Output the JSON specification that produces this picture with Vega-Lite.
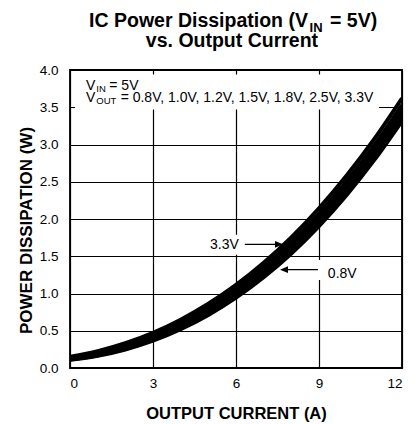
{
  "$schema": "https://vega.github.io/schema/vega-lite/v6.json",
  "width": 332,
  "height": 298,
  "autosize": "none",
  "padding": {"left": 70, "top": 70, "right": 17, "bottom": 56},
  "config": {
    "font": "Liberation Sans",
    "view": {"stroke": "black", "strokeWidth": 1.8},
    "axis": {"labelColor": "black", "titleColor": "black", "labelFont": "Liberation Sans", "titleFont": "Liberation Sans"}
  },
  "encoding": {
    "x": {"field": "current", "type": "quantitative", "scale": {"domain": [0, 12]},
      "axis": {"values": [0, 3, 6, 9, 12], "title": "OUTPUT CURRENT (A)", "titleFontSize": 16.5, "titleFontWeight": "bold", "titleY": 50, "titleBaseline": "alphabetic", "labelFontSize": 13.5, "labelPadding": 8, "ticks": false, "domain": false, "grid": true, "gridColor": "black", "gridWidth": 1.2, "gridOpacity": 1}},
    "y": {"field": "power", "type": "quantitative", "scale": {"domain": [0, 4]},
      "axis": {"values": [0, 0.5, 1, 1.5, 2, 2.5, 3, 3.5, 4], "format": ".1f", "title": "POWER DISSIPATION (W)", "titleFontSize": 17, "titleFontWeight": "bold", "titleX": -44, "titleY": 160, "titleBaseline": "middle", "titleAngle": -90, "labelFontSize": 13.5, "labelPadding": 12, "ticks": false, "domain": false, "grid": true, "gridColor": "black", "gridWidth": 1.2, "gridOpacity": 1}}
  },
  "layer": [
    {
      "data": {"values": [
        {"current": 0.18, "current2": 11.17, "power": 3.47, "power2": 3.94},
        {"current": 5.0, "current2": 7.6, "power": 1.52, "power2": 1.79},
        {"current": 7.5, "current2": 10.6, "power": 1.18, "power2": 1.45}
      ]},
      "mark": {"type": "rect", "fill": "white", "stroke": null},
      "encoding": {
        "x2": {"field": "current2"},
        "y2": {"field": "power2"}
      }
    },
    {
      "data": {"values": [
        {"current": 0, "power": 0.110, "vout": "0.8V"}, {"current": 1, "power": 0.164, "vout": "0.8V"}, {"current": 2, "power": 0.249, "vout": "0.8V"}, {"current": 3, "power": 0.367, "vout": "0.8V"}, {"current": 4, "power": 0.521, "vout": "0.8V"}, {"current": 5, "power": 0.712, "vout": "0.8V"}, {"current": 6, "power": 0.944, "vout": "0.8V"}, {"current": 7, "power": 1.219, "vout": "0.8V"}, {"current": 8, "power": 1.538, "vout": "0.8V"}, {"current": 9, "power": 1.906, "vout": "0.8V"}, {"current": 10, "power": 2.323, "vout": "0.8V"}, {"current": 11, "power": 2.793, "vout": "0.8V"}, {"current": 12, "power": 3.317, "vout": "0.8V"},
        {"current": 0, "power": 0.114, "vout": "1.0V"}, {"current": 1, "power": 0.170, "vout": "1.0V"}, {"current": 2, "power": 0.257, "vout": "1.0V"}, {"current": 3, "power": 0.378, "vout": "1.0V"}, {"current": 4, "power": 0.533, "vout": "1.0V"}, {"current": 5, "power": 0.727, "vout": "1.0V"}, {"current": 6, "power": 0.961, "vout": "1.0V"}, {"current": 7, "power": 1.238, "vout": "1.0V"}, {"current": 8, "power": 1.560, "vout": "1.0V"}, {"current": 9, "power": 1.930, "vout": "1.0V"}, {"current": 10, "power": 2.349, "vout": "1.0V"}, {"current": 11, "power": 2.821, "vout": "1.0V"}, {"current": 12, "power": 3.348, "vout": "1.0V"},
        {"current": 0, "power": 0.119, "vout": "1.2V"}, {"current": 1, "power": 0.178, "vout": "1.2V"}, {"current": 2, "power": 0.267, "vout": "1.2V"}, {"current": 3, "power": 0.390, "vout": "1.2V"}, {"current": 4, "power": 0.549, "vout": "1.2V"}, {"current": 5, "power": 0.745, "vout": "1.2V"}, {"current": 6, "power": 0.982, "vout": "1.2V"}, {"current": 7, "power": 1.261, "vout": "1.2V"}, {"current": 8, "power": 1.586, "vout": "1.2V"}, {"current": 9, "power": 1.958, "vout": "1.2V"}, {"current": 10, "power": 2.380, "vout": "1.2V"}, {"current": 11, "power": 2.855, "vout": "1.2V"}, {"current": 12, "power": 3.384, "vout": "1.2V"},
        {"current": 0, "power": 0.124, "vout": "1.5V"}, {"current": 1, "power": 0.186, "vout": "1.5V"}, {"current": 2, "power": 0.278, "vout": "1.5V"}, {"current": 3, "power": 0.404, "vout": "1.5V"}, {"current": 4, "power": 0.565, "vout": "1.5V"}, {"current": 5, "power": 0.765, "vout": "1.5V"}, {"current": 6, "power": 1.004, "vout": "1.5V"}, {"current": 7, "power": 1.286, "vout": "1.5V"}, {"current": 8, "power": 1.614, "vout": "1.5V"}, {"current": 9, "power": 1.989, "vout": "1.5V"}, {"current": 10, "power": 2.414, "vout": "1.5V"}, {"current": 11, "power": 2.891, "vout": "1.5V"}, {"current": 12, "power": 3.424, "vout": "1.5V"},
        {"current": 0, "power": 0.130, "vout": "1.8V"}, {"current": 1, "power": 0.195, "vout": "1.8V"}, {"current": 2, "power": 0.291, "vout": "1.8V"}, {"current": 3, "power": 0.420, "vout": "1.8V"}, {"current": 4, "power": 0.585, "vout": "1.8V"}, {"current": 5, "power": 0.787, "vout": "1.8V"}, {"current": 6, "power": 1.030, "vout": "1.8V"}, {"current": 7, "power": 1.316, "vout": "1.8V"}, {"current": 8, "power": 1.646, "vout": "1.8V"}, {"current": 9, "power": 2.025, "vout": "1.8V"}, {"current": 10, "power": 2.453, "vout": "1.8V"}, {"current": 11, "power": 2.934, "vout": "1.8V"}, {"current": 12, "power": 3.469, "vout": "1.8V"},
        {"current": 0, "power": 0.138, "vout": "2.5V"}, {"current": 1, "power": 0.208, "vout": "2.5V"}, {"current": 2, "power": 0.308, "vout": "2.5V"}, {"current": 3, "power": 0.441, "vout": "2.5V"}, {"current": 4, "power": 0.610, "vout": "2.5V"}, {"current": 5, "power": 0.817, "vout": "2.5V"}, {"current": 6, "power": 1.064, "vout": "2.5V"}, {"current": 7, "power": 1.354, "vout": "2.5V"}, {"current": 8, "power": 1.690, "vout": "2.5V"}, {"current": 9, "power": 2.072, "vout": "2.5V"}, {"current": 10, "power": 2.505, "vout": "2.5V"}, {"current": 11, "power": 2.990, "vout": "2.5V"}, {"current": 12, "power": 3.530, "vout": "2.5V"},
        {"current": 0, "power": 0.150, "vout": "3.3V"}, {"current": 1, "power": 0.226, "vout": "3.3V"}, {"current": 2, "power": 0.333, "vout": "3.3V"}, {"current": 3, "power": 0.473, "vout": "3.3V"}, {"current": 4, "power": 0.649, "vout": "3.3V"}, {"current": 5, "power": 0.862, "vout": "3.3V"}, {"current": 6, "power": 1.116, "vout": "3.3V"}, {"current": 7, "power": 1.413, "vout": "3.3V"}, {"current": 8, "power": 1.754, "vout": "3.3V"}, {"current": 9, "power": 2.144, "vout": "3.3V"}, {"current": 10, "power": 2.583, "vout": "3.3V"}, {"current": 11, "power": 3.075, "vout": "3.3V"}, {"current": 12, "power": 3.621, "vout": "3.3V"}
      ]},
      "mark": {"type": "line", "color": "black", "strokeWidth": 4, "interpolate": "monotone", "clip": true},
      "encoding": {
        "detail": {"field": "vout", "type": "nominal"}
      }
    },
    {
      "data": {"values": [
        {"current": 6.32, "current2": 7.56, "power": 1.66},
        {"current": 8.96, "current2": 7.73, "power": 1.32}
      ]},
      "mark": {"type": "rule", "color": "black", "strokeWidth": 1.2},
      "encoding": {
        "x2": {"field": "current2"}
      }
    },
    {
      "data": {"values": [{"current": 7.555, "power": 1.66}]},
      "mark": {"type": "point", "shape": "M1,0L-1,-0.85L-1,0.85Z", "size": 64, "filled": true, "color": "black", "opacity": 1}
    },
    {
      "data": {"values": [{"current": 7.735, "power": 1.32}]},
      "mark": {"type": "point", "shape": "M-1,0L1,-0.85L1,0.85Z", "size": 64, "filled": true, "color": "black", "opacity": 1}
    },
    {
      "data": {"values": [{"current": 8.6, "power": 4.577, "text": "IC Power Dissipation (V"}]},
      "mark": {"type": "text", "align": "right", "baseline": "alphabetic", "fontSize": 19.5, "fontWeight": "bold", "color": "black"},
      "encoding": {"text": {"field": "text"}}
    },
    {
      "data": {"values": [{"current": 9.4, "power": 4.577, "text": "= 5V)"}]},
      "mark": {"type": "text", "align": "left", "baseline": "alphabetic", "fontSize": 19.5, "fontWeight": "bold", "color": "black"},
      "encoding": {"text": {"field": "text"}}
    },
    {
      "data": {"values": [{"current": 5.855, "power": 4.309, "text": "vs. Output Current"}]},
      "mark": {"type": "text", "align": "center", "baseline": "alphabetic", "fontSize": 19.5, "fontWeight": "bold", "color": "black"},
      "encoding": {"text": {"field": "text"}}
    },
    {
      "data": {"values": [{"current": 8.66, "power": 4.51, "text": "IN"}]},
      "mark": {"type": "text", "align": "left", "baseline": "alphabetic", "fontSize": 13, "fontWeight": "bold", "color": "black"},
      "encoding": {"text": {"field": "text"}}
    },
    {
      "data": {"values": [
        {"current": 0.578, "power": 3.73, "text": "V"},
        {"current": 1.42, "power": 3.73, "text": "= 5V"},
        {"current": 0.578, "power": 3.57, "text": "V"},
        {"current": 1.83, "power": 3.57, "text": "= 0.8V, 1.0V, 1.2V, 1.5V, 1.8V, 2.5V, 3.3V"},
        {"current": 5.06, "power": 1.597, "text": "3.3V"},
        {"current": 9.32, "power": 1.21, "text": "0.8V"}
      ]},
      "mark": {"type": "text", "align": "left", "baseline": "alphabetic", "fontSize": 14, "color": "black"},
      "encoding": {"text": {"field": "text"}}
    },
    {
      "data": {"values": [
        {"current": 0.95, "power": 3.705, "text": "IN"},
        {"current": 0.95, "power": 3.544, "text": "OUT"}
      ]},
      "mark": {"type": "text", "align": "left", "baseline": "alphabetic", "fontSize": 9.5, "color": "black"},
      "encoding": {"text": {"field": "text"}}
    }
  ]
}
